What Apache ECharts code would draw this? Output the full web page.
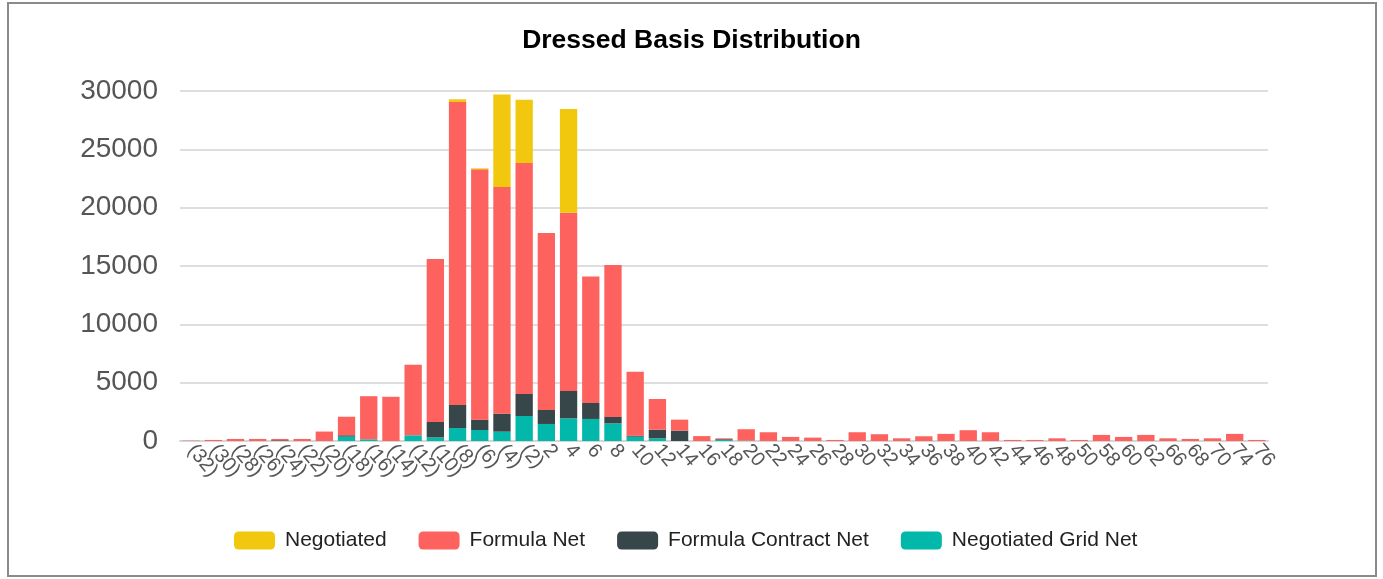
<!DOCTYPE html>
<html>
<head>
<meta charset="utf-8">
<script src="https://cdn.jsdelivr.net/npm/echarts@6/dist/echarts.min.js"></script>
<style>
  html, body { margin: 0; padding: 0; background: #fff; }
  #chart { width: 1383px; height: 579px; }
</style>
</head>
<body>
<div id="chart"></div>
<script>
// bucket labels
const categories = ['(32)', '(30)', '(28)', '(26)', '(24)', '(22)', '(20)', '(18)', '(16)', '(14)', '(12)', '(10)',
  '(8)', '(6)', '(4)', '(2)', '2', '4', '6', '8', '10', '12', '14', '16', '18', '20', '22', '24', '26', '28',
  '30', '32', '34', '36', '38', '40', '42', '44', '46', '48', '50', '58', '60', '62', '66', '68', '70', '74', '76'];

// segment values, bottom of the stack first
const gridNet = [0, 0, 0, 0, 0, 0, 0, 375, 145, 0, 490, 310, 1110, 940, 800, 2140, 1460, 1940, 1890, 1510,
  370, 230, 0, 0, 100, 30, 0, 0, 0, 0, 0, 0, 0, 0, 0, 0, 0, 0, 0, 0, 0, 0, 0, 0, 0, 0, 0, 0, 0];
const contractNet = [0, 0, 0, 0, 60, 0, 0, 115, 0, 0, 0, 1320, 1980, 890, 1540, 1890, 1200, 2350, 1370, 550,
  90, 740, 890, 0, 60, 0, 0, 0, 0, 0, 0, 0, 0, 0, 0, 0, 0, 0, 0, 0, 0, 0, 0, 0, 0, 0, 0, 0, 0];
const formulaNet = [30, 90, 175, 175, 115, 175, 810, 1590, 3695, 3790, 6040, 13970, 25970, 21460, 19430, 19800,
  15170, 15280, 10830, 13030, 5480, 2630, 940, 420, 70, 980, 750, 350, 290, 90, 750, 580, 230, 405, 610, 925,
  750, 90, 90, 230, 90, 520, 350, 520, 230, 175, 230, 610, 90];
const negotiated = [0, 0, 0, 0, 0, 0, 0, 0, 0, 0, 0, 0, 230, 80, 7920, 5430, 0, 8890, 0, 0,
  0, 0, 0, 0, 0, 0, 0, 0, 0, 0, 0, 0, 0, 0, 0, 0, 0, 0, 0, 0, 0, 0, 0, 0, 0, 0, 0, 0, 0];

const yTicks = [0, 5000, 10000, 15000, 20000, 25000, 30000];

const chart = echarts.init(document.getElementById('chart'));

function barSeries(name, data, color) {
  return {
    name: name,
    type: 'bar',
    stack: 'basis',
    data: data,
    barCategoryGap: '22%',
    itemStyle: { color: color },
    emphasis: { disabled: true }
  };
}

chart.setOption({
  animation: false,
  textStyle: { fontFamily: 'Liberation Sans, Arial, sans-serif' },
  title: {
    text: 'Dressed Basis Distribution',
    left: 'center',
    top: 22,
    textStyle: { fontSize: 26.5, fontWeight: 'bold', color: '#000' }
  },
  graphic: [{
    type: 'rect',
    shape: { x: 8, y: 3, width: 1368, height: 573 },
    style: { fill: 'none', stroke: '#8a8a8a', lineWidth: 2 },
    silent: true
  }],
  legend: {
    bottom: 23,
    left: 229,
    itemWidth: 41,
    itemHeight: 18,
    itemGap: 32,
    data: ['Negotiated', 'Formula Net', 'Formula Contract Net', 'Negotiated Grid Net'],
    textStyle: { fontSize: 21, color: '#222', padding: [0, 0, 0, 5] }
  },
  grid: { left: 180, right: 115, top: 91, bottom: 138 },
  xAxis: {
    type: 'category',
    data: categories,
    axisTick: { show: false },
    axisLine: { lineStyle: { color: '#d6d6d6', width: 2 } },
    axisLabel: { interval: 0, rotate: -50, fontSize: 20, color: '#555', margin: 6 }
  },
  yAxis: {
    type: 'value',
    min: yTicks[0],
    max: yTicks[yTicks.length - 1],
    interval: yTicks[1] - yTicks[0],
    axisLine: { show: false },
    axisTick: { show: false },
    axisLabel: { fontSize: 28, color: '#555', margin: 22, formatter: v => String(v) },
    splitLine: { lineStyle: { color: '#dedede', width: 2 } }
  },
  series: [
    barSeries('Negotiated Grid Net', gridNet, '#01B8AA'),
    barSeries('Formula Contract Net', contractNet, '#374649'),
    barSeries('Formula Net', formulaNet, '#FD625E'),
    barSeries('Negotiated', negotiated, '#F2C80F')
  ]
});
</script>
</body>
</html>
